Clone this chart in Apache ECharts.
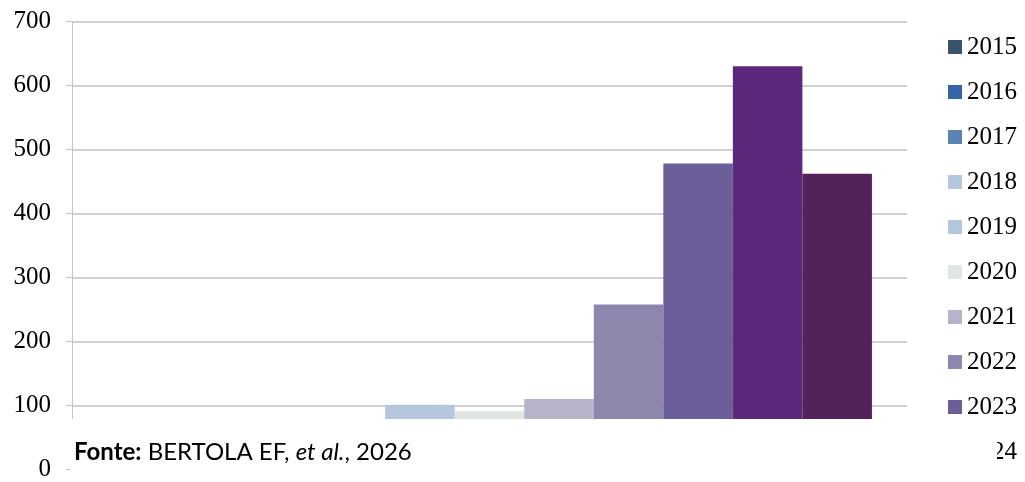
<!DOCTYPE html>
<html>
<head>
<meta charset="utf-8">
<script src="https://cdn.jsdelivr.net/npm/echarts@6/dist/echarts.min.js"></script>
<style>
html,body{margin:0;padding:0;background:#fff;}
#main{width:1025px;height:482px;}
</style>
</head>
<body>
<div id="main"></div>
<script>
// Data
var years = ['2015','2016','2017','2018','2019','2020','2021','2022','2023','2024','2025'];
var values = [10, 20, 40, 60, 101, 91, 110, 258, 478, 630, 462];
var colors = ['#37536e','#3465a6','#5a82b2','#b4c7dd','#b5c7dd','#dee5e2','#b7b3cb','#8e87ad','#6c5f99','#5c287c','#53225b'];
var yTicks = [0, 100, 200, 300, 400, 500, 600, 700];
var category = ['Total'];
var sourcePrefix = 'Fonte:';
var sourceAuthor = ' BERTOLA EF, ';
var sourceEtal = 'et al.';
var sourceYear = ', 2026';

var serif = "'Liberation Serif', 'Times New Roman', 'DejaVu Serif', serif";

var chart = echarts.init(document.getElementById('main'));
var series = years.map(function (y, i) {
  return {
    name: y,
    type: 'bar',
    data: [values[i]],
    itemStyle: { color: colors[i] },
    barGap: '0%',
    barCategoryGap: '8.4%',
    silent: true
  };
});

chart.setOption({
  animation: false,
  backgroundColor: '#fff',
  grid: { left: 72, right: 118, top: 21.5, bottom: 8.4, containLabel: false },
  xAxis: {
    type: 'category',
    data: category,
    axisLine: { show: false },
    axisTick: { show: false },
    axisLabel: { show: false }
  },
  yAxis: {
    type: 'value',
    min: yTicks[0],
    max: yTicks[yTicks.length - 1],
    interval: 100,
    axisLine: { show: true, lineStyle: { color: '#c4c4c4', width: 1 } },
    axisTick: { show: true, length: 6, lineStyle: { color: '#c4c4c4' } },
    splitLine: { show: true, lineStyle: { color: '#c0c0c0', width: 1.5 } },
    axisLabel: {
      margin: 21,
      color: '#000',
      fontFamily: serif,
      fontSize: 25
    }
  },
  legend: {
    orient: 'vertical',
    left: 948,
    top: 34.5,
    padding: 0,
    itemWidth: 14,
    itemHeight: 14,
    itemGap: 20,
    icon: 'rect',
    data: years,
    textStyle: {
      fontFamily: serif,
      fontSize: 25,
      lineHeight: 25,
      color: '#000'
    },
    itemStyle: { borderWidth: 0 }
  },
  series: series,
  graphic: [
    {
      type: 'rect',
      z: 100,
      shape: { x: 71, y: 419, width: 926, height: 63 },
      style: { fill: '#fff' }
    },
    {
      type: 'text',
      z: 101,
      left: 74,
      top: 440,
      style: {
        text: '{b|' + sourcePrefix + '}{n|' + sourceAuthor + '}{i|' + sourceEtal + '}{n|' + sourceYear + '}',
        rich: {
          b: { fontFamily: 'Lato', fontWeight: 'bold', fontSize: 24, fill: '#000' },
          n: { fontFamily: 'Lato', fontSize: 24, fill: '#000' },
          i: { fontFamily: 'Lato', fontStyle: 'italic', fontSize: 24, fill: '#000' }
        }
      }
    }
  ]
});
</script>
</body>
</html>
